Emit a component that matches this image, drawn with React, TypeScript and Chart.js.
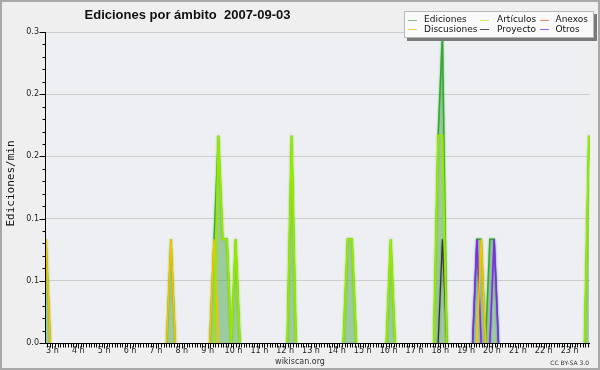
import { useEffect, useRef } from 'react';
import { Chart, registerables } from 'chart.js';

Chart.register(...registerables);

const TITLE = 'Ediciones por ámbito  2007-09-03';
const Y_TITLE = 'Ediciones/min';
const FOOTER = 'wikiscan.org';
const LICENSE = 'CC BY-SA 3.0';

// 10-minute bins, identified by their centre time
const FIRST_BIN = '02:45';
const LAST_BIN = '23:45';
const BIN_MINUTES = 10;

const X_MIN = 2.75;
const X_MAX = 23.79;
const hourTicks = [3, 4, 5, 6, 7, 8, 9, 10, 11, 12, 13, 14, 15, 16, 17, 18, 19, 20, 21, 22, 23];
const yTicks = [0, 0.06, 0.12, 0.18, 0.24, 0.3];

const seriesLabels = ['Ediciones', 'Artículos', 'Anexos', 'Discusiones', 'Proyecto', 'Otros'];

// [bin centre, edits per minute]
const ediciones: [string, number][] = [
  ['02:45', 0.1], ['07:35', 0.1], ['09:15', 0.1], ['09:25', 0.2], ['09:35', 0.1], ['09:45', 0.1],
  ['10:05', 0.1], ['12:15', 0.2], ['14:25', 0.1], ['14:35', 0.1], ['16:05', 0.1], ['17:55', 0.2],
  ['18:05', 0.3], ['19:25', 0.1], ['19:35', 0.1], ['19:55', 0.1], ['20:05', 0.1], ['23:45', 0.2],
];
const articulos: [string, number][] = [
  ['09:25', 0.2], ['09:35', 0.1], ['09:45', 0.1], ['10:05', 0.1], ['12:15', 0.2], ['14:25', 0.1],
  ['14:35', 0.1], ['16:05', 0.1], ['17:55', 0.2], ['18:05', 0.2], ['23:45', 0.2],
];
const anexos: [string, number][] = [];
const discusiones: [string, number][] = [['02:45', 0.1], ['07:35', 0.1], ['09:15', 0.1], ['19:35', 0.1]];
const proyecto: [string, number][] = [['18:05', 0.1]];
const otros: [string, number][] = [['19:25', 0.1], ['20:05', 0.1]];

const FONT = '"DejaVu Sans", sans-serif';

const toMinutes = (t: string) => {
  const [h, m] = t.split(':').map(Number);
  return h * 60 + m;
};

function buildSeries(pairs: [string, number][]) {
  const map = new Map<number, number>();
  pairs.forEach(([t, v]) => map.set(toMinutes(t), v));
  const out: { x: number; y: number | null }[] = [];
  for (let m = toMinutes(FIRST_BIN); m <= toMinutes(LAST_BIN); m += BIN_MINUTES) {
    let y: number | null = null;
    if (map.has(m)) y = map.get(m)!;
    else if (map.has(m - BIN_MINUTES) || map.has(m + BIN_MINUTES)) y = 0;
    out.push({ x: m / 60, y });
  }
  return out;
}

const lineColors = ['#33a833', '#99e800', '#ff7f40', '#f5c400', '#333333', '#7a2ee8'];
const legendColors = ['#7cc87c', '#c8ee6a', '#ee8a5a', '#f0cc50', '#555555', '#9a5cf0'];
const lineWidths = [1.5, 1.8, 1.5, 1.5, 1.2, 1.5];
const drawOrder = [10, 0, 4, 1, 2, 3];
const seriesData = [ediciones, articulos, anexos, discusiones, proyecto, otros];

const decor = {
  id: 'decor',
  beforeDraw(chart: any) {
    const { ctx, chartArea: a, width, height } = chart;
    ctx.save();
    ctx.fillStyle = '#efefef';
    ctx.fillRect(0, 0, width, height);
    ctx.fillStyle = '#edeff2';
    ctx.fillRect(a.left, a.top, a.right - a.left, a.bottom - a.top);
    ctx.restore();
  },
  beforeDatasetDraw(chart: any, args: any) {
    const ctx = chart.ctx;
    ctx.save();
    ctx.shadowColor = lineColors[args.index] + 'aa';
    ctx.shadowBlur = 2;
  },
  afterDatasetDraw(chart: any) {
    chart.ctx.restore();
  },
  afterDatasetsDraw(chart: any) {
    const { ctx, chartArea: a } = chart;
    const xs = chart.scales.x;
    const ys = chart.scales.y;
    ctx.save();
    ctx.strokeStyle = '#000';
    ctx.lineWidth = 1;
    ctx.beginPath();
    const ax = Math.round(a.left) - 0.5;
    const ay = Math.round(a.bottom) + 0.5;
    ctx.moveTo(ax, a.top);
    ctx.lineTo(ax, ay);
    ctx.lineTo(a.right, ay);
    // y ticks
    for (let i = 0; i <= 25; i++) {
      const v = i * 0.012;
      const y = Math.round(ys.getPixelForValue(v)) + 0.5;
      const len = i % 5 === 0 ? 6 : 3;
      ctx.moveTo(ax - len, y);
      ctx.lineTo(ax, y);
    }
    // x ticks
    for (let k = Math.ceil(X_MIN * 10); k <= Math.floor(X_MAX * 10); k++) {
      const x = Math.round(xs.getPixelForValue(k / 10)) + 0.5;
      const len = k % 10 === 0 ? 5 : 4;
      ctx.moveTo(x, ay);
      ctx.lineTo(x, ay + len);
    }
    ctx.stroke();
    ctx.restore();
  },
  afterDraw(chart: any) {
    const { ctx, width, height } = chart;
    ctx.save();
    // title
    ctx.fillStyle = '#111';
    ctx.font = 'bold 13px "Liberation Sans", sans-serif';
    ctx.textAlign = 'center';
    ctx.textBaseline = 'alphabetic';
    ctx.fillText(TITLE, 187.5, 18.5);
    // y title
    ctx.save();
    ctx.translate(14, 183.5);
    ctx.rotate(-Math.PI / 2);
    ctx.font = '11px "DejaVu Sans Mono", monospace';
    ctx.fillStyle = '#111';
    ctx.fillText(Y_TITLE, 0, 0);
    ctx.restore();
    // footer
    ctx.font = '8px ' + FONT;
    ctx.fillStyle = '#333';
    ctx.fillText(FOOTER, 300, 364);
    ctx.font = '6px ' + FONT;
    ctx.textAlign = 'right';
    ctx.fillText(LICENSE, 589, 365);
    // legend
    const lx = 404, ly = 11, lw = 190, lh = 27;
    ctx.fillStyle = '#7a7a7a';
    ctx.fillRect(lx + 3, ly + 3, lw, lh);
    ctx.fillStyle = '#fafafa';
    ctx.fillRect(lx, ly, lw, lh);
    ctx.strokeStyle = '#b8b8b8';
    ctx.lineWidth = 1;
    ctx.strokeRect(lx + 0.5, ly + 0.5, lw - 1, lh - 1);
    const cols = [408, 480, 540];
    const txt = [424, 497, 555.5];
    const rows = [19.5, 29];
    ctx.font = '9px ' + FONT;
    ctx.textAlign = 'left';
    ctx.textBaseline = 'middle';
    const grid = [[0, 0], [1, 0], [2, 0], [0, 1], [1, 1], [2, 1]];
    chart.data.datasets.forEach((ds: any, i: number) => {
      const [c, r] = grid[i];
      const y = Math.round(rows[r]) + 0.5;
      ctx.strokeStyle = legendColors[i];
      ctx.beginPath();
      ctx.moveTo(cols[c], y);
      ctx.lineTo(cols[c] + 9, y);
      ctx.stroke();
      ctx.fillStyle = '#111';
      ctx.fillText(ds.label, txt[c], rows[r] + 0.5);
    });
    // frame
    ctx.strokeStyle = '#a8a8a8';
    ctx.lineWidth = 2;
    ctx.strokeRect(1, 1, width - 2, height - 2);
    ctx.restore();
  },
};

export default function App() {
  const ref = useRef<HTMLCanvasElement>(null);
  useEffect(() => {
    const canvas = ref.current;
    if (!canvas) return;
    const datasets = seriesLabels.map((label, i) => ({
      label,
      data: buildSeries(seriesData[i]),
      borderColor: lineColors[i],
      borderWidth: lineWidths[i],
      backgroundColor: i === 0 ? 'rgba(60,160,60,0.45)' : lineColors[i],
      fill: i === 0 ? 'origin' : false,
      order: drawOrder[i],
      pointRadius: 0,
      tension: 0,
      spanGaps: false,
    }));
    const chart = new Chart(canvas, {
      type: 'line',
      data: { datasets },
      options: {
        animation: false,
        responsive: false,
        maintainAspectRatio: false,
        layout: { padding: { left: 0, right: 10, top: 32, bottom: 0 } },
        plugins: {
          legend: { display: false },
          tooltip: { enabled: false },
          title: { display: false },
        },
        scales: {
          x: {
            type: 'linear',
            min: X_MIN,
            max: X_MAX,
            afterBuildTicks: (s: any) => {
              s.ticks = hourTicks.map((v) => ({ value: v }));
            },
            afterFit: (s: any) => {
              s.height = 27;
            },
            ticks: {
              autoSkip: false,
              maxRotation: 0,
              minRotation: 0,
              padding: 3,
              color: '#222',
              font: { family: FONT, size: 8 },
              callback: (v: any) => `${v} h`,
            },
            grid: { display: false, drawTicks: false },
            border: { display: false },
          },
          y: {
            min: 0,
            max: 0.3,
            afterBuildTicks: (s: any) => {
              s.ticks = yTicks.map((v) => ({ value: v }));
            },
            afterFit: (s: any) => {
              s.width = 46;
            },
            ticks: {
              padding: 7,
              color: '#222',
              font: { family: FONT, size: 8 },
              callback: (v: any) => Number(v).toFixed(1),
            },
            grid: { color: '#cdcdcd', drawTicks: false, lineWidth: 1 },
            border: { display: false },
          },
        },
      },
      plugins: [decor],
    } as any);
    return () => chart.destroy();
  }, []);
  return (
    <div style={{ position: 'absolute', left: 0, top: 0, width: 600, height: 370 }}>
      <canvas ref={ref} width={600} height={370} style={{ display: 'block', width: 600, height: 370 }} />
    </div>
  );
}
